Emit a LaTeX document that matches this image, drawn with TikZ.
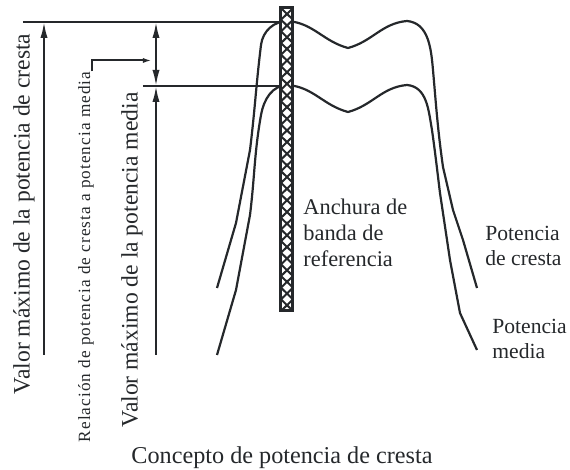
\documentclass[tikz,border=0pt]{standalone}
\usepackage{fontspec}
\setmainfont{Liberation Serif}
\usetikzlibrary{arrows.meta}
\definecolor{ink}{HTML}{25282B}
\tikzset{
  curve/.style={ink,line width=1.1pt,line join=round},
  dimline/.style={ink,line width=1pt},
  lbl/.style={ink,inner sep=0pt,font=\fontsize{11.8}{12.8}\selectfont},
  sidelbl/.style={ink,inner sep=0pt,anchor=north west,align=left,font=\fontsize{10.8}{12.3}\selectfont},
}
\begin{document}
\begin{tikzpicture}[x=0.5pt,y=0.5pt,>={Latex[length=8pt,width=3.6pt]}]
\useasboundingbox (0,0) rectangle (570,470);
%\draw[help lines,step=50] (0,0) grid (570,470);
\coordinate (crest) at (23,448);
\coordinate (mean) at (143,384);
\coordinate (barSW) at (281,159);
\coordinate (barNE) at (293,462);
\coordinate (a1) at (44,115);
\coordinate (a2) at (156,115);
% the two spectra
\draw[curve] (217,182) -- (236,247) -- (250,320) to[out=83,in=-97] (261,425)
  to[out=83,in=180] (288,449) to[out=-5,in=165] (348,422) to[out=15,in=185] (407,449)
  to[out=-5,in=95] (433,400) to[out=-85,in=98] (443,303) -- (453,260) -- (463,230) -- (477,182);
\draw[curve] (217,115) -- (236,180) -- (250,255) to[out=83,in=-100] (261,355)
  to[out=80,in=180] (288,385) to[out=-5,in=165] (348,358) to[out=15,in=185] (407,385)
  to[out=-5,in=100] (432,340) to[out=-82,in=97] (440,277) -- (450,210) -- (460,157) -- (477,120);
% levels
\draw[dimline] (crest) -- (barSW |- crest);
\draw[dimline] (mean) -- (barSW |- mean);
% reference band
\fill[white] (barSW) rectangle (barNE);
\foreach \i in {0,...,25}
  \draw[ink,line width=1pt] (281,159+\i*11.65) -- (293,159+\i*11.65+11.65)
    (293,159+\i*11.65) -- (281,159+\i*11.65+11.65);
\draw[ink,line width=1.5pt] (barSW) rectangle (barNE);
% dimensions
\draw[dimline,->] (a1) -- (a1 |- crest);
\draw[dimline,<->] (a2 |- crest) -- (a2 |- mean);
\draw[dimline,->] (a2) -- (a2 |- mean);
\node[lbl,rotate=90] (vcrest) at (24,256) {Valor máximo de la potencia de cresta};
\node[lbl,rotate=90] (vmean) at (132,210) {Valor máximo de la potencia media};
\node[ink,inner sep=0pt,rotate=90,font=\fontsize{8.6}{10}\selectfont\addfontfeature{LetterSpace=6}] (ratio) at (86,213)
  {Relación de potencia de cresta a potencia media};
\coordinate (leadTurn) at ([xshift=-1pt,yshift=5.5pt]ratio.south east);
\draw[dimline,-{Latex[length=5pt,width=2.4pt]},shorten >=1.5pt] ([xshift=-1pt]ratio.south east) -- (leadTurn) -- (leadTurn -| a2);
% labels
\node[sidelbl,font=\fontsize{11.2}{12.8}\selectfont] (band) at (303,271) {Anchura de\\banda de\\referencia};
\node[sidelbl] (crestlbl) at (485,244) {Potencia\\de cresta};
\node[sidelbl] (meanlbl) at (492,151) {Potencia\\media};
\node[lbl,anchor=base,font=\fontsize{12.1}{13}\selectfont] (title) at (282,6) {Concepto de potencia de cresta};
\end{tikzpicture}
\end{document}
